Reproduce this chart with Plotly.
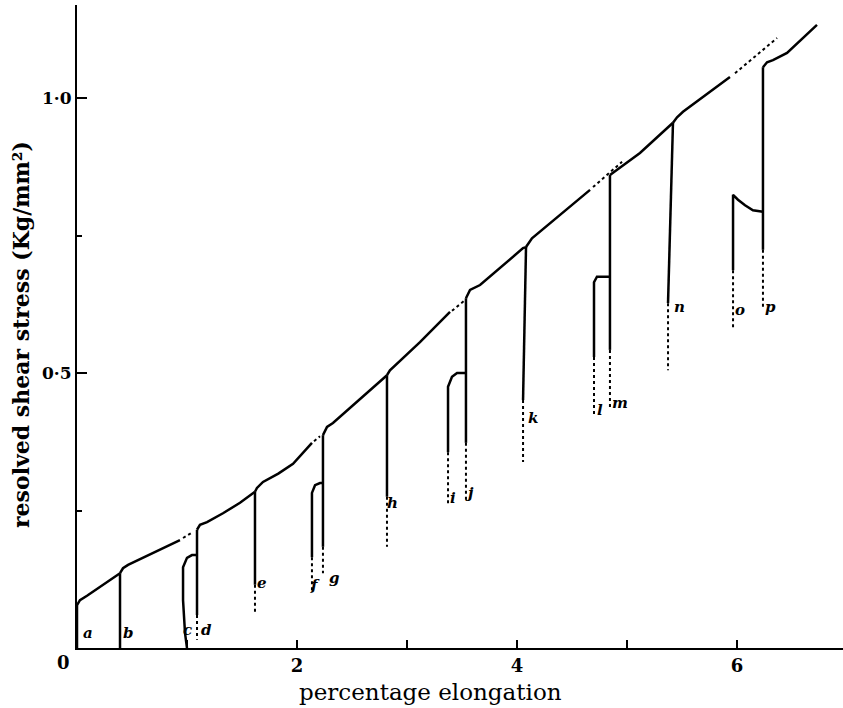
import plotly.graph_objects as go

# ---------------- data (x: percentage elongation, y: resolved shear stress) ----------------
# loading curves (solid)
load_a_x = [0.0, 0.0, 0.027, 0.091, 0.391]
load_a_y = [0.0, 0.078, 0.087, 0.095, 0.136]
load_b_x = [0.391, 0.418, 0.464, 0.936]
load_b_y = [0.136, 0.145, 0.151, 0.196]
load_d_x = [1.091, 1.118, 1.182, 1.327, 1.482, 1.618]
load_d_y = [0.215, 0.224, 0.229, 0.245, 0.264, 0.284]
load_e_x = [1.618, 1.636, 1.691, 1.830, 1.964, 2.136]
load_e_y = [0.284, 0.291, 0.302, 0.317, 0.335, 0.373]
load_g_x = [2.236, 2.273, 2.327, 2.573, 2.818]
load_g_y = [0.387, 0.402, 0.409, 0.453, 0.496]
load_h_x = [2.818, 2.845, 3.118, 3.391]
load_h_y = [0.496, 0.505, 0.556, 0.611]
load_j_x = [3.536, 3.573, 3.664, 4.055, 4.082]
load_j_y = [0.636, 0.651, 0.660, 0.727, 0.729]
load_k_x = [4.082, 4.136, 4.664]
load_k_y = [0.729, 0.745, 0.833]
load_m_x = [4.845, 5.118, 5.418]
load_m_y = [0.860, 0.900, 0.955]
load_n_x = [5.418, 5.455, 5.509, 5.936]
load_n_y = [0.955, 0.965, 0.975, 1.038]
load_p_x = [6.236, 6.273, 6.327, 6.455, 6.727]
load_p_y = [1.056, 1.065, 1.069, 1.082, 1.133]

# extrapolated (dotted) continuations of loading curves
ext_x_start = [0.964, 2.155, 3.409, 4.691, 5.982]
ext_y_start = [0.200, 0.376, 0.613, 0.838, 1.045]
ext_x_end = [1.055, 2.209, 3.518, 4.955, 6.364]
ext_y_end = [0.211, 0.385, 0.631, 0.884, 1.109]

# reloading curves after rest (solid part, dotted tail lower end)
reload_c_x = [1.0, 0.982, 0.964, 0.964, 1.0, 1.045, 1.091]
reload_c_y = [0.0, 0.027, 0.087, 0.147, 0.164, 0.169, 0.169]
reload_f_x = [2.136, 2.136, 2.164, 2.209, 2.236]
reload_f_y = [0.165, 0.282, 0.296, 0.300, 0.300]
reload_i_x = [3.373, 3.373, 3.409, 3.455, 3.536]
reload_i_y = [0.356, 0.475, 0.493, 0.500, 0.500]
reload_l_x = [4.700, 4.700, 4.727, 4.845]
reload_l_y = [0.529, 0.665, 0.675, 0.675]
reload_o_x = [5.964, 5.964, 6.009, 6.073, 6.145, 6.236]
reload_o_y = [0.687, 0.824, 0.815, 0.805, 0.796, 0.793]
reload_dot_end = [None, 0.100, 0.260, 0.420, 0.582]

# unloading drops
drop_x_top = [0.391, 1.091, 1.618, 2.236, 2.818, 3.536, 4.082, 4.845, 5.418, 6.236]
drop_x_bot = [0.391, 1.091, 1.618, 2.236, 2.818, 3.536, 4.055, 4.845, 5.373, 6.236]
drop_y_top = [0.136, 0.215, 0.284, 0.387, 0.496, 0.636, 0.729, 0.860, 0.955, 1.056]
drop_y_solid = [0.0, 0.060, 0.115, 0.184, 0.275, 0.373, 0.451, 0.542, 0.627, 0.724]
drop_y_dot = [None, 0.015, 0.064, 0.136, 0.184, 0.269, 0.338, 0.438, 0.505, 0.620]

# curve letters
label_text = ["a", "b", "c", "d", "e", "f", "g", "h", "i", "j", "k", "l", "m", "n", "o", "p"]
label_x = [0.10, 0.464, 1.009, 1.18, 1.68, 2.16, 2.345, 2.87, 3.42, 3.57, 4.145, 4.755, 4.936, 5.48, 6.03, 6.30]
label_y = [0.027, 0.027, 0.033, 0.033, 0.118, 0.115, 0.127, 0.264, 0.273, 0.282, 0.418, 0.433, 0.445, 0.62, 0.615, 0.62]

x_tick_vals = [0, 1, 2, 3, 4, 5, 6]
x_tick_text = ["", "", "2", "", "4", "", "6"]
y_tick_vals = [0.5, 1.0]
y_tick_text = ["0·5", "1·0"]

# ---------------- build traces ----------------
solid_x, solid_y = [], []
def add(xs, ys, bx, by):
    bx.extend(list(xs) + [None])
    by.extend(list(ys) + [None])

for xs, ys in [(load_a_x, load_a_y), (load_b_x, load_b_y), (load_d_x, load_d_y),
               (load_e_x, load_e_y), (load_g_x, load_g_y), (load_h_x, load_h_y),
               (load_j_x, load_j_y), (load_k_x, load_k_y), (load_m_x, load_m_y),
               (load_n_x, load_n_y), (load_p_x, load_p_y),
               (reload_c_x, reload_c_y), (reload_f_x, reload_f_y), (reload_i_x, reload_i_y),
               (reload_l_x, reload_l_y), (reload_o_x, reload_o_y)]:
    add(xs, ys, solid_x, solid_y)

for i in range(len(drop_x_top)):
    add([drop_x_top[i], drop_x_bot[i]], [drop_y_top[i], drop_y_solid[i]], solid_x, solid_y)

dot_x, dot_y = [], []
for i in range(len(drop_x_top)):
    if drop_y_dot[i] is not None:
        add([drop_x_bot[i], drop_x_bot[i]], [drop_y_solid[i], drop_y_dot[i]], dot_x, dot_y)
reloads = [(reload_c_x, reload_c_y), (reload_f_x, reload_f_y), (reload_i_x, reload_i_y),
           (reload_l_x, reload_l_y), (reload_o_x, reload_o_y)]
for (xs, ys), end in zip(reloads, reload_dot_end):
    if end is not None:
        add([xs[0], xs[0]], [ys[0], end], dot_x, dot_y)

ext_x, ext_y = [], []
for i in range(len(ext_x_start)):
    add([ext_x_start[i], ext_x_end[i]], [ext_y_start[i], ext_y_end[i]], ext_x, ext_y)

fig = go.Figure()
fig.add_trace(go.Scatter(x=solid_x, y=solid_y, mode="lines",
                         line=dict(color="black", width=2.5), hoverinfo="skip"))
fig.add_trace(go.Scatter(x=dot_x, y=dot_y, mode="lines",
                         line=dict(color="black", width=2, dash="dot"), hoverinfo="skip"))
fig.add_trace(go.Scatter(x=ext_x, y=ext_y, mode="lines",
                         line=dict(color="black", width=2, dash="dot"), hoverinfo="skip"))

for t, lx, ly in zip(label_text, label_x, label_y):
    fig.add_annotation(x=lx, y=ly, text=t, showarrow=False, xanchor="center", yanchor="middle",
                       font=dict(family="DejaVu Serif", size=15, color="black",
                                 style="italic", weight="bold"))

fig.add_annotation(x=0, y=0, text="0", showarrow=False, xshift=-14, yshift=-14,
                   font=dict(family="DejaVu Serif", size=18, color="black", weight="bold"))

fig.add_annotation(xref="paper", yref="paper", x=(430 - 77) / 766, y=(648 - 692) / 643,
                   text="percentage elongation", showarrow=False,
                   xanchor="center", yanchor="middle",
                   font=dict(family="DejaVu Serif", size=23, color="black"))
fig.add_annotation(xref="paper", yref="paper", x=(21 - 77) / 766, y=(648 - 335) / 643,
                   text="resolved shear stress (Kg/mm²)", showarrow=False, textangle=-90,
                   xanchor="center", yanchor="middle",
                   font=dict(family="DejaVu Serif", size=22, color="black", weight="bold"))

fig.update_layout(
    width=843, height=708,
    margin=dict(l=77, r=0, t=5, b=60),
    paper_bgcolor="white", plot_bgcolor="white",
    showlegend=False,
    xaxis=dict(range=[0, 766 / 110], showgrid=False, zeroline=False,
               showline=True, linecolor="black", linewidth=2,
               ticks="inside", ticklen=8, tickwidth=2, tickcolor="black",
               tickvals=x_tick_vals, ticktext=x_tick_text,
               tickfont=dict(family="DejaVu Serif", size=18, color="black", weight="bold")),
    yaxis=dict(range=[0, 643 / 550], showgrid=False, zeroline=False,
               showline=True, linecolor="black", linewidth=2,
               ticks="inside", ticklen=10, tickwidth=2, tickcolor="black",
               tickvals=y_tick_vals, ticktext=y_tick_text,
               minor=dict(dtick=0.25, tick0=0, ticks="inside", ticklen=5, tickwidth=2, tickcolor="black"),
               tickfont=dict(family="DejaVu Serif", size=17, color="black", weight="bold")),
)

fig.write_html("out.html")
